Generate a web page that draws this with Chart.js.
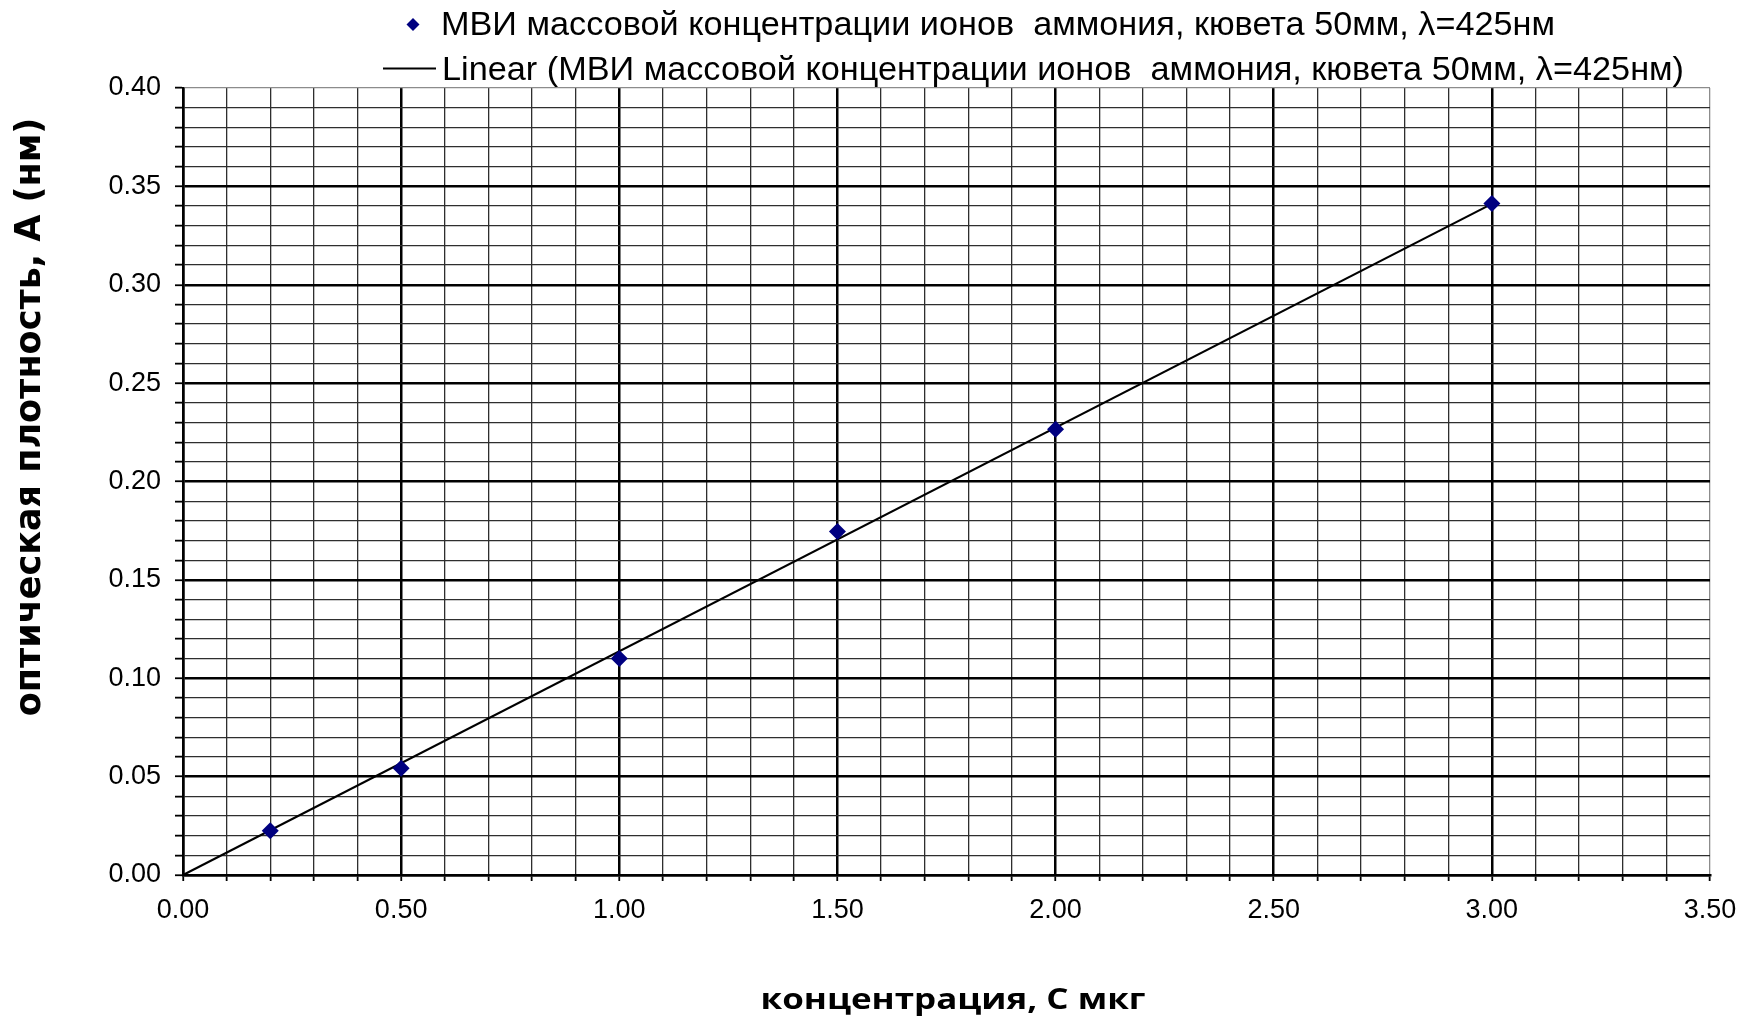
<!DOCTYPE html>
<html>
<head>
<meta charset="utf-8">
<title>Градуировочный график</title>
<script src="https://cdn.jsdelivr.net/npm/chart.js@4/dist/chart.umd.min.js"></script>
<style>
  html, body { margin: 0; padding: 0; background: #ffffff; }
  #wrap { position: relative; width: 1744px; height: 1021px; }
</style>
</head>
<body>
<div id="wrap"><canvas id="chart" width="1744" height="1021"></canvas></div>
<script>
// Calibration points: concentration (мкг) vs optical density
const concentration = [0.2, 0.5, 1.0, 1.5, 2.0, 3.0];
const absorbance = [0.0225, 0.0542, 0.110, 0.1746, 0.2266, 0.3413];

// Trendline spans from the origin to the last calibration point
const trendX = [0, 3.0];

const seriesLabel = 'МВИ массовой концентрации ионов  аммония, кювета 50мм, λ=425нм';
const trendLabel = 'Linear (МВИ массовой концентрации ионов  аммония, кювета 50мм, λ=425нм)';
const xTitle = 'концентрация, С мкг';
const yTitle = 'оптическая плотность, А (нм)';

// Axis tick labels (major) – minor grid every 0.1 / 0.01 between them
const xTickLabels = ['0.00', '0.50', '1.00', '1.50', '2.00', '2.50', '3.00', '3.50'];
const yTickLabels = ['0.00', '0.05', '0.10', '0.15', '0.20', '0.25', '0.30', '0.35', '0.40'];

const xMinorTicks = [];
for (let i = 0; i <= 35; i++) xMinorTicks.push(i / 10);
const yMinorTicks = [];
for (let i = 0; i <= 40; i++) yMinorTicks.push(i / 100);

// Least-squares slope of a line through the origin
let sxy = 0, sxx = 0;
for (let i = 0; i < concentration.length; i++) {
  sxy += concentration[i] * absorbance[i];
  sxx += concentration[i] * concentration[i];
}
const slope = sxy / sxx;

const points = concentration.map((x, i) => ({ x: x, y: absorbance[i] }));
const trend = trendX.map(x => ({ x: x, y: slope * x }));

const MARKER = '#000080';
const MAJOR = '#000000';
const MINOR = '#2e2e2e';
const FRAME = '#8c8c8c';

function isMajorX(v) { return Math.round(v * 10) % 5 === 0; }
function isMajorY(v) { return Math.round(v * 100) % 5 === 0; }
function xLabel(v) { const s = v.toFixed(2); return xTickLabels.includes(s) ? s : ''; }
function yLabel(v) { const s = v.toFixed(2); return yTickLabels.includes(s) && isMajorY(v) ? s : ''; }

// Legend and axis titles drawn outside the plot
const decorations = {
  id: 'decorations',
  afterDraw(chart) {
    const ctx = chart.ctx;
    const ds = chart.data.datasets;
    ctx.save();
    ctx.fillStyle = '#000';
    ctx.textBaseline = 'middle';
    ctx.textAlign = 'left';

    // legend row 1: diamond marker
    ctx.save();
    ctx.fillStyle = ds[0].backgroundColor;
    ctx.beginPath();
    const mx = 413, my = 24.5, mr = 6.5;
    ctx.moveTo(mx, my - mr); ctx.lineTo(mx + mr, my); ctx.lineTo(mx, my + mr); ctx.lineTo(mx - mr, my);
    ctx.closePath(); ctx.fill();
    ctx.restore();

    ctx.font = '33px "Liberation Sans", Arial, sans-serif';
    const w1 = ctx.measureText(ds[0].label).width;
    ctx.save();
    ctx.translate(441, 26);
    ctx.scale(1114 / w1, 1);
    ctx.fillText(ds[0].label, 0, 0);
    ctx.restore();

    // legend row 2: line sample
    ctx.save();
    ctx.strokeStyle = ds[1].borderColor;
    ctx.lineWidth = 2;
    ctx.beginPath(); ctx.moveTo(383, 68.5); ctx.lineTo(436, 68.5); ctx.stroke();
    ctx.restore();
    const w2 = ctx.measureText(ds[1].label).width;
    ctx.save();
    ctx.translate(442, 71);
    ctx.scale(1242 / w2, 1);
    ctx.fillText(ds[1].label, 0, 0);
    ctx.restore();

    // y axis title
    ctx.save();
    ctx.font = 'bold 35px "DejaVu Sans", Verdana, sans-serif';
    ctx.textAlign = 'center';
    ctx.translate(31, 417);
    ctx.rotate(-Math.PI / 2);
    ctx.fillText(yTitle, 0, 0);
    ctx.restore();

    // x axis title
    ctx.save();
    ctx.font = 'bold 28px "Open Sans", sans-serif';
    ctx.textAlign = 'center';
    const wx = ctx.measureText(xTitle).width;
    ctx.translate(953, 1001);
    ctx.scale(385 / wx, 1);
    ctx.fillText(xTitle, 0, 0);
    ctx.restore();

    ctx.restore();
  }
};

const tickFont = { family: '"Liberation Sans", Arial, sans-serif', size: 27 };

new Chart(document.getElementById('chart'), {
  type: 'scatter',
  data: {
    datasets: [
      {
        label: seriesLabel,
        data: points,
        backgroundColor: MARKER,
        borderColor: MARKER,
        borderWidth: 0,
        pointStyle: 'rectRot',
        pointRadius: 8.5,
        pointHoverRadius: 8.5,
        showLine: false,
        order: 0
      },
      {
        label: trendLabel,
        type: 'line',
        data: trend,
        borderColor: '#000000',
        backgroundColor: '#000000',
        borderWidth: 2.2,
        pointRadius: 0,
        showLine: true,
        fill: false,
        order: 1
      }
    ]
  },
  options: {
    responsive: false,
    animation: false,
    events: [],
    layout: { padding: { left: 0, right: 34, top: 88, bottom: 0 } },
    plugins: {
      legend: { display: false },
      tooltip: { enabled: false },
      title: { display: false }
    },
    scales: {
      x: {
        type: 'linear',
        min: 0,
        max: 3.5,
        afterBuildTicks: s => { s.ticks = xMinorTicks.map(v => ({ value: v })); },
        afterFit: s => { s.height = 146; s.paddingRight = 20; },
        ticks: {
          autoSkip: false,
          maxRotation: 0,
          minRotation: 0,
          padding: 13,
          color: '#000',
          font: tickFont,
          callback: v => xLabel(v)
        },
        grid: {
          color: c => c.tick && Math.abs(c.tick.value - 3.5) < 1e-9 ? FRAME : (c.tick && isMajorX(c.tick.value) ? MAJOR : MINOR),
          lineWidth: c => c.tick && isMajorX(c.tick.value) && Math.abs(c.tick.value - 3.5) > 1e-9 ? 2.5 : 1.3,
          tickColor: '#000',
          tickWidth: 1.8,
          tickLength: 6,
          drawTicks: true
        },
        border: { display: true, color: '#000', width: 2.5 }
      },
      y: {
        type: 'linear',
        min: 0,
        max: 0.4,
        afterBuildTicks: s => { s.ticks = yMinorTicks.map(v => ({ value: v })); },
        afterFit: s => { s.width = 183; },
        ticks: {
          autoSkip: false,
          padding: 14,
          color: '#000',
          font: tickFont,
          callback: v => yLabel(v)
        },
        grid: {
          color: c => c.tick && Math.abs(c.tick.value - 0.4) < 1e-9 ? FRAME : (c.tick && isMajorY(c.tick.value) ? MAJOR : MINOR),
          lineWidth: c => c.tick && isMajorY(c.tick.value) && Math.abs(c.tick.value - 0.4) > 1e-9 ? 2.5 : 1.3,
          tickColor: '#000',
          tickWidth: 1.8,
          tickLength: 8,
          drawTicks: true
        },
        border: { display: true, color: '#000', width: 2.5 }
      }
    }
  },
  plugins: [decorations]
});
</script>
</body>
</html>
